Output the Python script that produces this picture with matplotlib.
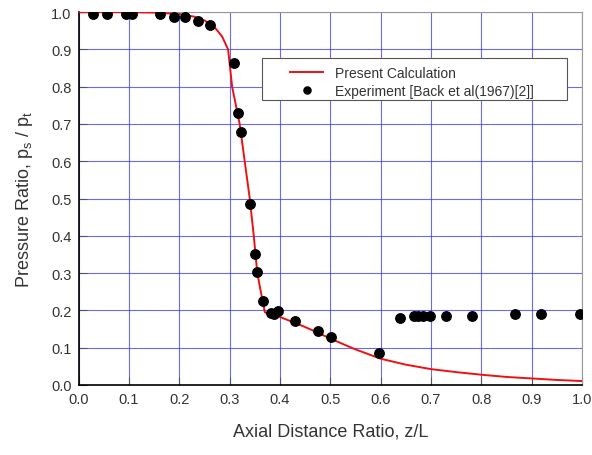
import matplotlib
matplotlib.use("Agg")
import matplotlib.pyplot as plt
from matplotlib.patches import Rectangle

plt.rcParams['font.family'] = ['Liberation Sans', 'DejaVu Sans']

# Present calculation curve
calc_z = [0.0, 0.10, 0.15, 0.20, 0.23, 0.25, 0.27, 0.285, 0.297, 0.305, 0.32, 0.33,
          0.34, 0.348, 0.355, 0.362, 0.370, 0.38, 0.40, 0.43, 0.45, 0.475, 0.50,
          0.55, 0.60, 0.65, 0.70, 0.75, 0.80, 0.85, 0.90, 0.95, 1.0]
calc_p = [1.0, 1.0, 0.999, 0.995, 0.988, 0.978, 0.96, 0.935, 0.90, 0.80, 0.70, 0.60,
          0.50, 0.40, 0.30, 0.25, 0.195, 0.188, 0.182, 0.166, 0.155, 0.14, 0.124,
          0.095, 0.07, 0.054, 0.042, 0.034, 0.027, 0.021, 0.017, 0.013, 0.010]

# Experiment [Back et al (1967)]
exp_z = [0.029, 0.056, 0.095, 0.107, 0.162, 0.190, 0.211, 0.237, 0.262, 0.309,
         0.317, 0.323, 0.341, 0.350, 0.355, 0.367, 0.382, 0.388, 0.397, 0.430,
         0.476, 0.501, 0.597, 0.638, 0.667, 0.675, 0.685, 0.698, 0.730, 0.781,
         0.868, 0.919, 0.996]
exp_p = [0.995, 0.995, 0.995, 0.995, 0.994, 0.988, 0.988, 0.977, 0.967, 0.864,
         0.730, 0.679, 0.486, 0.352, 0.302, 0.226, 0.192, 0.190, 0.199, 0.170,
         0.145, 0.129, 0.086, 0.179, 0.184, 0.184, 0.184, 0.184, 0.185, 0.185,
         0.191, 0.191, 0.191]

xticks = [round(0.1 * i, 1) for i in range(11)]
yticks = [round(0.1 * i, 1) for i in range(11)]

fig = plt.figure(figsize=(5.92, 4.56), dpi=100)
ax = fig.add_axes([0.1328, 0.154, 0.983 - 0.1328, 0.971 - 0.154])

ax.set_xlim(0, 1)
ax.set_ylim(0, 1)
ax.set_xticks(xticks)
ax.set_yticks(yticks)
ax.set_xticklabels([f"{t:.1f}" for t in xticks])
ax.set_yticklabels([f"{t:.1f}" for t in yticks])
ax.grid(True, color='#3a3aee', linewidth=0.8, alpha=0.75)
ax.set_axisbelow(True)

ax.plot(calc_z, calc_p, color='#ee1111', lw=1.4, label='Present Calculation', zorder=3)
ax.plot(exp_z, exp_p, 'o', color='black', ms=6.8, label='Experiment [Back et al(1967)[2]]', zorder=4)

for s in ['top', 'right']:
    ax.spines[s].set_color('#999999')
for s in ['left', 'bottom']:
    ax.spines[s].set_color('black')
    ax.spines[s].set_linewidth(1.2)

ax.tick_params(direction='in', length=6, color='#555555', labelsize=10.5, labelcolor='#333333', pad=5)

ax.set_xlabel('Axial Distance Ratio, z/L', fontsize=13, color='#333333', labelpad=12)
ax.set_ylabel('Pressure Ratio, p$_\\mathregular{s}$ / p$_\\mathregular{t}$', fontsize=13, color='#333333', labelpad=12)

# legend frame
shadow = Rectangle((0.367, 0.7605), 0.606, 0.1128, transform=ax.transAxes,
                   facecolor='#c8c8c8', edgecolor='none', zorder=5)
ax.add_patch(shadow)
frame = Rectangle((0.364, 0.7645), 0.606, 0.1128, transform=ax.transAxes,
                  facecolor='white', edgecolor='#555555', lw=0.8, zorder=5.5)
ax.add_patch(frame)

leg = ax.legend(loc='upper left', bbox_to_anchor=(0.420, 0.856),
                fontsize=10, frameon=False, handlelength=2.38, handletextpad=0.86,
                borderpad=0, labelspacing=0.3, markerscale=0.75, borderaxespad=0)
leg.set_zorder(6)
for t in leg.get_texts():
    t.set_color('#333333')

fig.savefig('out.png', dpi=100)
